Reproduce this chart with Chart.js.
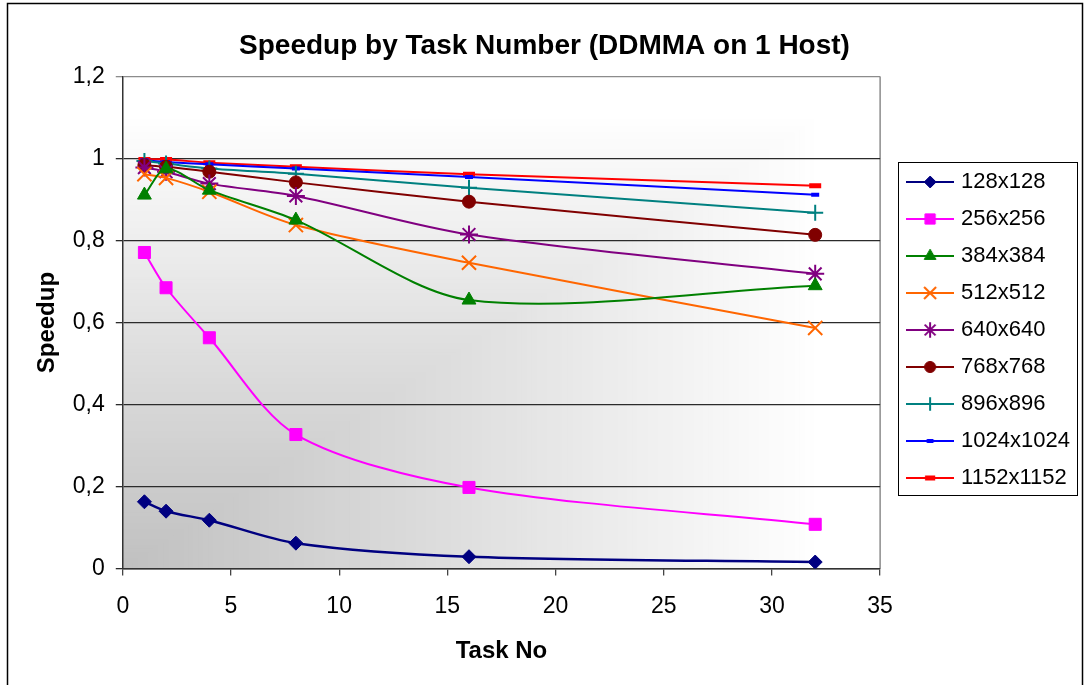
<!DOCTYPE html>
<html>
<head>
<meta charset="utf-8">
<title>Speedup by Task Number</title>
<script src="https://cdn.jsdelivr.net/npm/chart.js@4.4.1/dist/chart.umd.min.js"></script>
<style>
  html, body { margin: 0; padding: 0; background: #fff; }
  canvas { display: block; }
</style>
</head>
<body>
<canvas id="speedupChart" width="1085" height="685"></canvas>
<script>
// task counts on the x axis
const taskNo = [1, 2, 4, 8, 16, 32];

// speedup per matrix size
const s128  = [0.163, 0.140, 0.118, 0.062, 0.029, 0.016];
const s256  = [0.771, 0.685, 0.563, 0.327, 0.198, 0.108];
const s384  = [0.911, 0.975, 0.923, 0.850, 0.655, 0.690];
const s512  = [0.962, 0.953, 0.919, 0.838, 0.746, 0.587];
const s640  = [0.978, 0.968, 0.939, 0.909, 0.815, 0.719];
const s768  = [0.984, 0.980, 0.968, 0.942, 0.895, 0.814];
const s896  = [0.994, 0.988, 0.976, 0.963, 0.929, 0.868];
const s1024 = [0.996, 0.992, 0.986, 0.976, 0.955, 0.912];
const s1152 = [0.998, 0.998, 0.990, 0.980, 0.962, 0.934];

const seriesNames = ['128x128', '256x256', '384x384', '512x512', '640x640',
                     '768x768', '896x896', '1024x1024', '1152x1152'];

const xTickValues = [0, 5, 10, 15, 20, 25, 30, 35];
const yTickValues = [0, 0.2, 0.4, 0.6, 0.8, 1, 1.2];
const yTickLabels = ['0', '0,2', '0,4', '0,6', '0,8', '1', '1,2'];

const FONT = "'Liberation Sans', Arial, sans-serif";

function series(name, values, color, style, radius, bw, lw) {
  return {
    label: name,
    data: taskNo.map((x, i) => ({ x: x, y: values[i] })),
    borderColor: color,
    backgroundColor: color,
    borderWidth: lw || 2,
    pointStyle: style,
    pointRadius: radius,
    pointHoverRadius: radius,
    pointBackgroundColor: color,
    pointBorderColor: color,
    pointBorderWidth: bw,
    tension: 0.3,
    fill: false
  };
}

const datasets = [
  series(seriesNames[0], s128,  '#000080', 'rectRot',  7, 1, 2.5),
  series(seriesNames[1], s256,  '#ff00ff', 'rect',     8.5, 1),
  series(seriesNames[2], s384,  '#008000', 'triangle', 8, 1),
  series(seriesNames[3], s512,  '#ff6600', 'crossRot', 10, 2),
  series(seriesNames[4], s640,  '#800080', 'star',     9, 2),
  series(seriesNames[5], s768,  '#800000', 'circle',   6.5, 1),
  series(seriesNames[6], s896,  '#008080', 'cross',    8, 2),
  series(seriesNames[7], s1024, '#0000ff', 'line',     4, 4),
  series(seriesNames[8], s1152, '#ff0000', 'line',     6, 5)
];

// little line + marker picture used as legend symbol
function legendSample(ds) {
  const c = document.createElement('canvas');
  c.width = 48; c.height = 20;
  const g = c.getContext('2d');
  g.strokeStyle = ds.borderColor;
  g.lineWidth = 2;
  g.beginPath(); g.moveTo(0, 10); g.lineTo(48, 10); g.stroke();
  g.fillStyle = ds.pointBackgroundColor;
  g.strokeStyle = ds.pointBorderColor;
  g.lineWidth = ds.pointBorderWidth;
  Chart.helpers.drawPoint(g, {
    pointStyle: ds.pointStyle,
    radius: ds.pointRadius * 0.85,
    borderWidth: ds.pointBorderWidth,
    rotation: 0
  }, 24, 10);
  return c;
}

const chartDecor = {
  id: 'chartDecor',
  afterLayout(chart) {
    // move legend next to plot like the excel one
    const lg = chart.legend;
    const w = lg.width, h = lg.bottom - lg.top;
    const colH = lg.columnSizes[0].height;
    const pad = lg.options.labels.padding;
    const top = (2 * 171 - pad - h + colH) / 2;
    lg.top = top; lg.bottom = top + h;
    lg.left = chart.chartArea.right + 15; lg.right = lg.left + w;
  },
  beforeDraw(chart) {
    const ctx = chart.ctx, ca = chart.chartArea;
    ctx.save();
    ctx.fillStyle = '#ffffff';
    ctx.fillRect(0, 0, chart.width, chart.height);
    // gradient "from corner" (bottom left dark)
    const steps = 150;
    for (let i = steps; i >= 1; i--) {
      const t = i / steps;
      const v = Math.round(192 + 63 * Math.min(1, t * 1.08));
      ctx.fillStyle = 'rgb(' + v + ',' + v + ',' + v + ')';
      const w = ca.width * t, h = ca.height * t;
      ctx.fillRect(ca.left, ca.bottom - h, w, h);
    }
    ctx.strokeStyle = '#8c8c8c';
    ctx.lineWidth = 1.5;
    ctx.beginPath();
    ctx.moveTo(ca.right, ca.top);
    ctx.lineTo(ca.right, ca.bottom);
    ctx.stroke();
    ctx.restore();
  },
  afterDraw(chart) {
    const ctx = chart.ctx;
    const boxes = chart.legend.legendHitBoxes;
    let x0 = Infinity, y0 = Infinity, x1 = -Infinity, y1 = -Infinity;
    boxes.forEach(b => {
      x0 = Math.min(x0, b.left); y0 = Math.min(y0, b.top);
      x1 = Math.max(x1, b.left + b.width); y1 = Math.max(y1, b.top + b.height);
    });
    ctx.save();
    ctx.strokeStyle = '#000';
    ctx.lineWidth = 1;
    ctx.strokeRect(Math.round(x0 - 12) + 0.5, Math.round(y0 - 9) + 0.5,
                   Math.round(x1 - x0 + 19), Math.round(y1 - y0 + 15));
    // outer frame
    ctx.lineWidth = 1.5;
    ctx.strokeRect(7.5, 3.5, 1075, 720);
    ctx.restore();
  }
};

const chart = new Chart(document.getElementById('speedupChart'), {
  type: 'line',
  data: { datasets: datasets },
  plugins: [chartDecor],
  options: {
    responsive: false,
    animation: false,
    maintainAspectRatio: false,
    layout: { padding: { left: 24, right: 20, top: 0, bottom: 0 } },
    plugins: {
      title: {
        display: true,
        text: 'Speedup by Task Number (DDMMA on 1 Host)',
        color: '#000',
        font: { family: FONT, size: 28, weight: 'bold' },
        padding: { top: 29, bottom: 14 }
      },
      legend: {
        position: 'right',
        labels: {
          color: '#000',
          font: { family: FONT, size: 22 },
          usePointStyle: true,
          pointStyleWidth: 40,
          padding: 15,
          generateLabels(chart) {
            return chart.data.datasets.map((ds, i) => ({
              text: ds.label,
              datasetIndex: i,
              pointStyle: legendSample(ds),
              fillStyle: ds.borderColor,
              strokeStyle: ds.borderColor,
              fontColor: '#000',
              lineWidth: 0,
              hidden: false
            }));
          }
        }
      },
      tooltip: { enabled: false }
    },
    scales: {
      x: {
        type: 'linear',
        min: 0,
        max: 35,
        afterBuildTicks(scale) { scale.ticks = xTickValues.map(v => ({ value: v })); },
        ticks: {
          color: '#000',
          font: { family: FONT, size: 23 },
          padding: 17
        },
        grid: { drawOnChartArea: false, drawTicks: true, tickLength: 7, color: '#444', lineWidth: 1.3 },
        border: { color: '#333', width: 1.5 },
        title: {
          display: true,
          text: 'Task No',
          color: '#000',
          font: { family: FONT, size: 24, weight: 'bold' },
          padding: { top: 0, bottom: 19 }
        }
      },
      y: {
        min: 0,
        max: 1.2,
        afterBuildTicks(scale) { scale.ticks = yTickValues.map(v => ({ value: v })); },
        ticks: {
          color: '#000',
          font: { family: FONT, size: 23 },
          padding: 11,
          callback: (v, i) => yTickLabels[i]
        },
        grid: {
          drawTicks: true,
          tickLength: 7,
          lineWidth: 1.3,
          color: c => (c.tick && c.tick.value === 1.2) ? '#8c8c8c' : '#2b2b2b'
        },
        border: { color: '#333', width: 1.5 },
        title: {
          display: true,
          text: 'Speedup',
          color: '#000',
          font: { family: FONT, size: 24, weight: 'bold' },
          padding: { top: 9, bottom: 0 }
        }
      }
    }
  }
});
</script>
</body>
</html>
